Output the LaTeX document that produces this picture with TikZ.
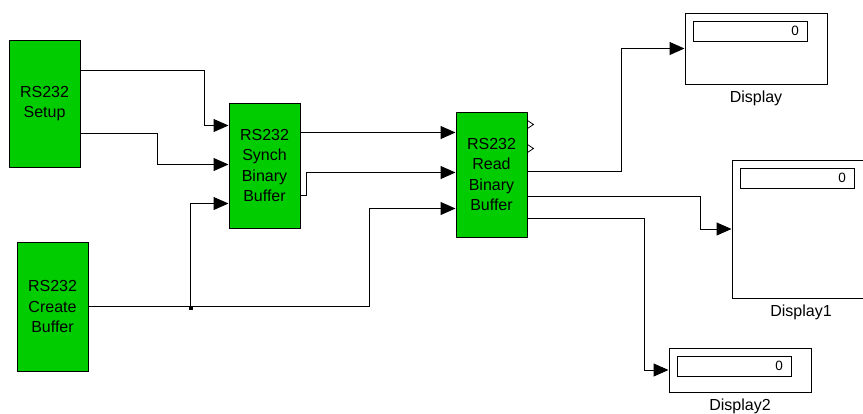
\documentclass[tikz,border=0pt]{standalone}
\usepackage{fontspec}
\setmainfont{Liberation Sans}
\usetikzlibrary{arrows.meta,positioning}
\definecolor{blockgreen}{RGB}{0,204,0}
\tikzset{
  blk/.style={draw, fill=blockgreen, line width=1pt, minimum width=71pt, inner sep=0pt,
    align=center, font=\fontsize{16}{20.5}\selectfont},
  sig/.style={line width=1pt, -{Triangle[length=15pt,width=13pt]}},
  dispbox/.style={draw, line width=1pt, minimum width=142pt, inner sep=0pt},
  valbox/.style={draw, line width=1pt, minimum height=20pt, text width=98pt, inner xsep=8pt,
    inner ysep=0pt, align=right, font=\fontsize{13.5}{14}\selectfont},
  lbl/.style={font=\fontsize{16}{18}\selectfont, inner sep=0pt}
}
\begin{document}
\begin{tikzpicture}[x=1pt, y=-1pt]
  \clip (0,0) rectangle (863,413);
  % RS232 blocks
  \node[blk, minimum height=127pt] (setup) at (44.5,103.5) {RS232\\Setup};
  \node[blk, minimum height=125pt] (synch) at (264.5,165.5) {RS232\\Synch\\Binary\\Buffer};
  \node[blk, minimum height=125pt] (read) at (491.5,174.5) {RS232\\Read\\Binary\\Buffer};
  \node[blk, minimum height=129pt] (create) at (52.5,306.5) {RS232\\Create\\Buffer};
  % displays
  \node[dispbox, minimum height=71pt] (disp) at (756,48.5) {};
  \node[dispbox, minimum width=138pt, minimum height=138pt] (disp1) at (801,229) {};
  \node[dispbox, minimum height=44pt] (disp2) at (740,370) {};
  \node[valbox, anchor=north west] (val) at ([shift={(8,8)}]disp.north west) {0};
  \node[valbox, anchor=north west] (val1) at ([shift={(8,8)}]disp1.north west) {0};
  \node[valbox, anchor=north west] (val2) at ([shift={(8,8)}]disp2.north west) {0};
  \node[lbl, below=18pt of disp, anchor=base] (disp-lbl) {Display};
  \node[lbl, below=18pt of disp1, anchor=base] (disp1-lbl) {Display1};
  \node[lbl, below=18pt of disp2, anchor=base] (disp2-lbl) {Display2};
  % ports
  \foreach \n/\d in {o1/31,o2/94}
    \coordinate (setup-\n) at ([yshift=-\d pt]setup.north east);
  \foreach \n/\d in {i1/23,i2/62,i3/101}
    \coordinate (synch-\n) at ([yshift=-\d pt]synch.north west);
  \foreach \n/\d in {o1/30,o2/93}
    \coordinate (synch-\n) at ([yshift=-\d pt]synch.north east);
  \foreach \n/\d in {i1/21,i2/61,i3/97}
    \coordinate (read-\n) at ([yshift=-\d pt]read.north west);
  \foreach \n/\d in {o1/13,o2/37,o3/60,o4/85,o5/107}
    \coordinate (read-\n) at ([yshift=-\d pt]read.north east);
  \coordinate (br) at ([xshift=102pt]create.east);
  % signals
  \draw[sig] (setup-o1) -- ++(124,0) |- (synch-i1);
  \draw[sig] (setup-o2) -- ++(77,0) |- (synch-i2);
  \draw[sig] (synch-o1) -- (read-i1);
  \draw[sig] (synch-o2) -- ++(6,0) |- (read-i2);
  \draw[sig] (create.east) -- ++(281,0) |- (read-i3);
  \draw[sig] (br) |- (synch-i3);
  \fill ([shift={(-2,-1)}]br) rectangle ++(4,4);
  \draw[sig] (read-o3) -- ++(94,0) |- (disp.west);
  \draw[sig] (read-o4) -- ++(173,0) |- (disp1.west);
  \draw[sig] (read-o5) -- ++(117,0) |- (disp2.west);
  % unconnected outputs
  \foreach \p in {o1,o2}
    \draw[line width=0.8pt] ([shift={(0,-4)}]read-\p) -- ++(6,4) -- ++(-6,4);
\end{tikzpicture}
\end{document}
